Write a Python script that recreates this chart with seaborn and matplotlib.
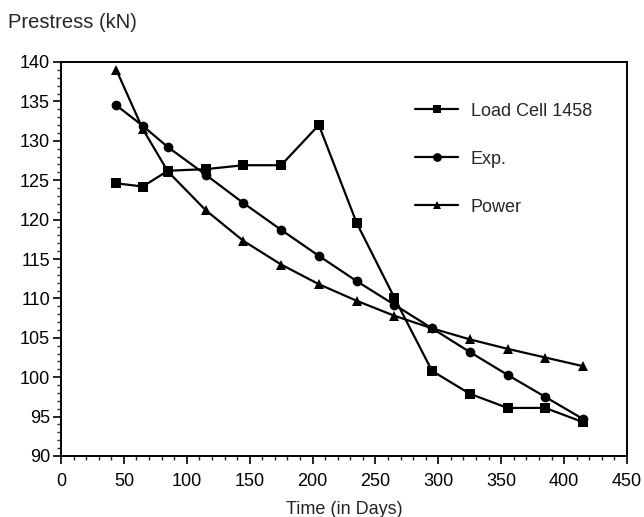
import pandas as pd
import matplotlib
matplotlib.use("Agg")
import matplotlib.pyplot as plt
from matplotlib.ticker import MultipleLocator
import seaborn as sns

# values
days = [44, 65, 85, 115, 145, 175, 205, 235, 265, 295, 325, 355, 385, 415]
load_cell = [124.6, 124.2, 126.2, 126.4, 126.9, 126.9, 132.0, 119.6, 110.1, 100.8, 97.9, 96.1, 96.1, 94.3]
exp_fit = [134.5, 131.9, 129.2, 125.7, 122.1, 118.7, 115.4, 112.2, 109.2, 106.2, 103.2, 100.3, 97.5, 94.7]
power_fit = [139.0, 131.5, 126.1, 121.2, 117.3, 114.3, 111.8, 109.7, 107.8, 106.2, 104.8, 103.6, 102.5, 101.4]
series_names = ["Load Cell 1458", "Exp.", "Power"]

df = pd.DataFrame({
    "day": days * 3,
    "prestress": load_cell + exp_fit + power_fit,
    "series": [series_names[0]] * len(days) + [series_names[1]] * len(days) + [series_names[2]] * len(days),
})

sns.set_theme(style="ticks")
plt.rcParams["font.family"] = ["Liberation Sans", "DejaVu Sans"]

fig = plt.figure(figsize=(6.44, 5.17), dpi=100)
ax = fig.add_axes([61 / 644, 1 - 456 / 517, (627 - 61) / 644, (456 - 62) / 517])

sns.lineplot(data=df, x="day", y="prestress", hue="series", style="series",
             palette=["black"] * 3, markers=["s", "o", "^"], dashes=False,
             markersize=7, linewidth=1.6, markeredgewidth=0, ax=ax)

ax.set_xlim(0, 450)
ax.set_ylim(90, 140)
ax.xaxis.set_major_locator(MultipleLocator(50))
ax.xaxis.set_minor_locator(MultipleLocator(10))
ax.yaxis.set_major_locator(MultipleLocator(5))
ax.yaxis.set_minor_locator(MultipleLocator(1))
ax.tick_params(which="major", length=6, width=1.2, labelsize=13, colors="black",
               direction="out", pad=2)
ax.tick_params(axis="x", which="major", pad=6)
ax.tick_params(which="minor", length=3, width=1, direction="out")
for s in ax.spines.values():
    s.set_linewidth(1.4)
    s.set_color("black")

ax.set_xlabel("Time (in Days)", fontsize=13, labelpad=8)
ax.set_ylabel("")
fig.text(8 / 644, 1 - 22 / 517, "Prestress (kN)", fontsize=14.5, va="center", ha="left")

leg = ax.legend(loc="upper right", bbox_to_anchor=(0.967, 0.938), frameon=False,
                fontsize=13, handlelength=2.4, handletextpad=0.7, labelspacing=1.72,
                markerscale=0.9)

fig.savefig("out.png", dpi=100)
